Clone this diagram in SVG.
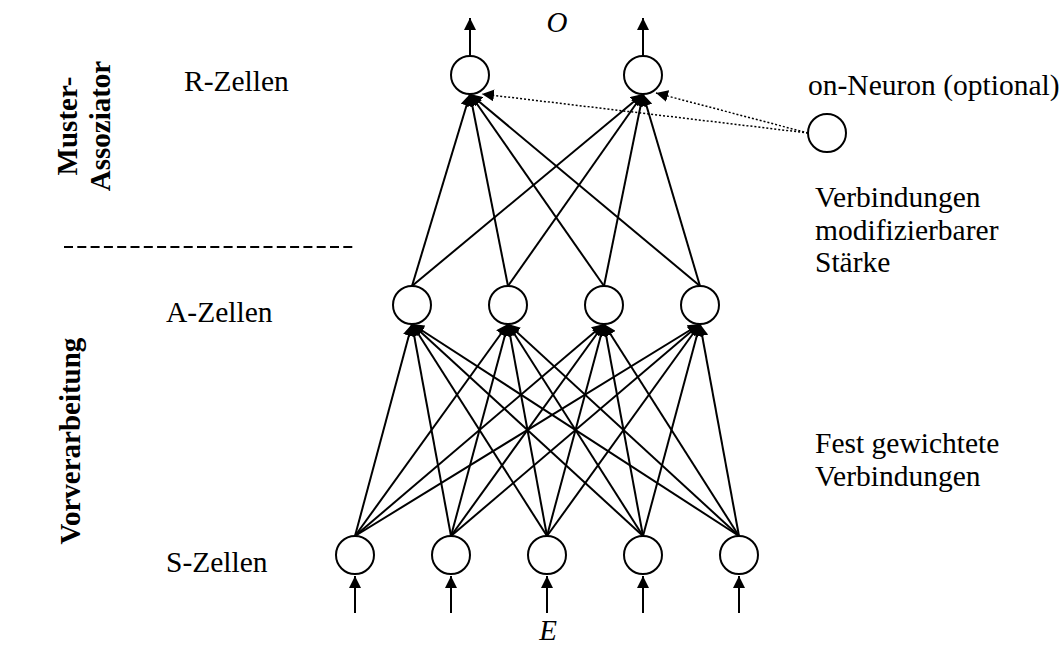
<svg xmlns="http://www.w3.org/2000/svg" width="1062" height="645" viewBox="0 0 1062 645">
  <style>
    .lbl { font-family: "Liberation Serif", "Times New Roman", serif; font-size: 29.5px; fill: #000; }
    .side { font-family: "Liberation Serif", "Times New Roman", serif; font-size: 29px; font-weight: bold; fill: #000; }
    .var { font-family: "Liberation Serif", "Times New Roman", serif; font-size: 29px; font-style: italic; fill: #000; }
    .cell { fill: #fff; stroke: #000; stroke-width: 2; }
    .edge { stroke: #000; stroke-width: 2; fill: none; marker-end: url(#head); }
    .dot { stroke: #000; stroke-width: 1.5; stroke-dasharray: 2 2; fill: none; marker-end: url(#head); }
  </style>
  <defs>
    <marker id="head" viewBox="0 0 12 12" refX="12" refY="6" markerWidth="12" markerHeight="12" markerUnits="userSpaceOnUse" orient="auto">
      <path d="M0,0 L12,6 L0,12 z" fill="#000"/>
    </marker>
  </defs>
  <rect width="1062" height="645" fill="#fff"/>

  <!-- layer labels -->
  <text class="side" transform="translate(77,126) rotate(-90)" text-anchor="middle">Muster-</text>
  <text class="side" transform="translate(110,126) rotate(-90)" text-anchor="middle">Assoziator</text>
  <text class="side" transform="translate(80,441) rotate(-90)" text-anchor="middle">Vorverarbeitung</text>
  <line x1="64" y1="247" x2="355" y2="247" stroke="#000" stroke-width="2" stroke-dasharray="9 4.3"/>
  <text class="lbl" x="184" y="91">R-Zellen</text>
  <text class="lbl" x="166" y="322">A-Zellen</text>
  <text class="lbl" x="166" y="572">S-Zellen</text>
  <text class="lbl" x="808" y="95">on-Neuron (optional)</text>
  <text class="lbl" x="815" y="207">Verbindungen</text>
  <text class="lbl" x="815" y="240">modifizierbarer</text>
  <text class="lbl" x="815" y="272">Stärke</text>
  <text class="lbl" x="815" y="453">Fest gewichtete</text>
  <text class="lbl" x="815" y="486">Verbindungen</text>
  <text class="var" x="557" y="32" text-anchor="middle">O</text>
  <text class="var" x="548" y="640" text-anchor="middle">E</text>

  <g id="connectors">
    <!-- inputs -->
    <line class="edge" x1="355" y1="613" x2="355" y2="576"/>
    <line class="edge" x1="451" y1="613" x2="451" y2="576"/>
    <line class="edge" x1="547" y1="613" x2="547" y2="576"/>
    <line class="edge" x1="643" y1="613" x2="643" y2="576"/>
    <line class="edge" x1="739" y1="613" x2="739" y2="576"/>
    <!-- outputs -->
    <line class="edge" x1="470" y1="56" x2="470" y2="18"/>
    <line class="edge" x1="643" y1="56" x2="643" y2="18"/>
    <!-- S to A -->
    <line class="edge" x1="355" y1="536" x2="412" y2="324"/>
    <line class="edge" x1="355" y1="536" x2="508" y2="324"/>
    <line class="edge" x1="355" y1="536" x2="604" y2="324"/>
    <line class="edge" x1="355" y1="536" x2="700" y2="324"/>
    <line class="edge" x1="451" y1="536" x2="412" y2="324"/>
    <line class="edge" x1="451" y1="536" x2="508" y2="324"/>
    <line class="edge" x1="451" y1="536" x2="604" y2="324"/>
    <line class="edge" x1="451" y1="536" x2="700" y2="324"/>
    <line class="edge" x1="547" y1="536" x2="412" y2="324"/>
    <line class="edge" x1="547" y1="536" x2="508" y2="324"/>
    <line class="edge" x1="547" y1="536" x2="604" y2="324"/>
    <line class="edge" x1="547" y1="536" x2="700" y2="324"/>
    <line class="edge" x1="643" y1="536" x2="412" y2="324"/>
    <line class="edge" x1="643" y1="536" x2="508" y2="324"/>
    <line class="edge" x1="643" y1="536" x2="604" y2="324"/>
    <line class="edge" x1="643" y1="536" x2="700" y2="324"/>
    <line class="edge" x1="739" y1="536" x2="412" y2="324"/>
    <line class="edge" x1="739" y1="536" x2="508" y2="324"/>
    <line class="edge" x1="739" y1="536" x2="604" y2="324"/>
    <line class="edge" x1="739" y1="536" x2="700" y2="324"/>
    <!-- A to R -->
    <line class="edge" x1="412" y1="286" x2="470" y2="94"/>
    <line class="edge" x1="412" y1="286" x2="643" y2="94"/>
    <line class="edge" x1="508" y1="286" x2="470" y2="94"/>
    <line class="edge" x1="508" y1="286" x2="643" y2="94"/>
    <line class="edge" x1="604" y1="286" x2="470" y2="94"/>
    <line class="edge" x1="604" y1="286" x2="643" y2="94"/>
    <line class="edge" x1="700" y1="286" x2="470" y2="94"/>
    <line class="edge" x1="700" y1="286" x2="643" y2="94"/>
    <!-- on-neuron to R -->
    <line class="dot" x1="808" y1="133" x2="482" y2="94"/>
    <line class="dot" x1="808" y1="133" x2="656" y2="93"/>
  </g>

  <g id="R1"><circle class="cell" cx="470" cy="75" r="19"/></g>
  <g id="R2"><circle class="cell" cx="643" cy="75" r="19"/></g>
  <g id="on-neuron"><circle class="cell" cx="827" cy="133" r="19"/></g>
  <g id="A1"><circle class="cell" cx="412" cy="305" r="19"/></g>
  <g id="A2"><circle class="cell" cx="508" cy="305" r="19"/></g>
  <g id="A3"><circle class="cell" cx="604" cy="305" r="19"/></g>
  <g id="A4"><circle class="cell" cx="700" cy="305" r="19"/></g>
  <g id="S1"><circle class="cell" cx="355" cy="555" r="19"/></g>
  <g id="S2"><circle class="cell" cx="451" cy="555" r="19"/></g>
  <g id="S3"><circle class="cell" cx="547" cy="555" r="19"/></g>
  <g id="S4"><circle class="cell" cx="643" cy="555" r="19"/></g>
  <g id="S5"><circle class="cell" cx="739" cy="555" r="19"/></g>
</svg>
